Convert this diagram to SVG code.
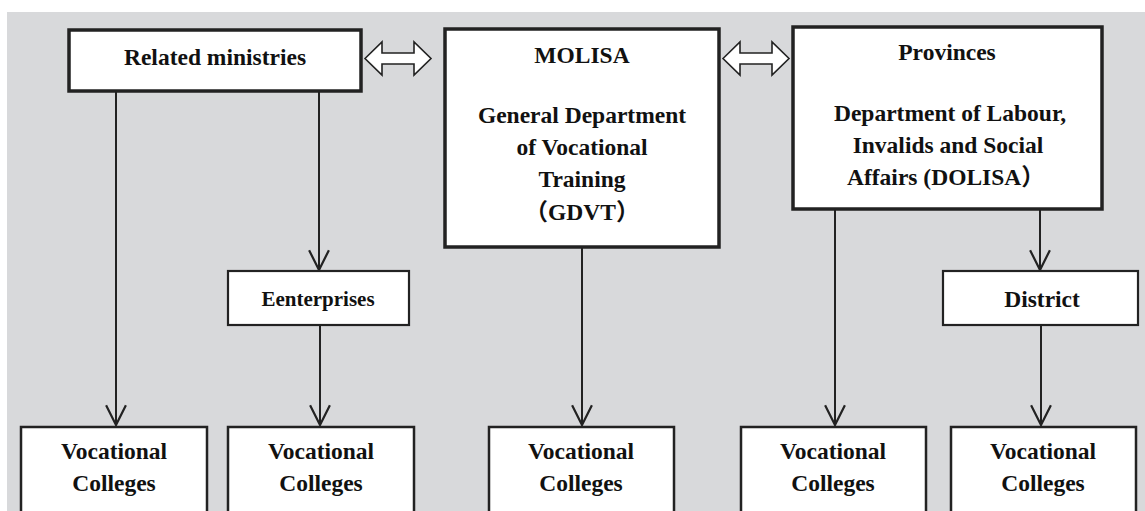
<svg xmlns="http://www.w3.org/2000/svg" width="1145" height="511" viewBox="0 0 1145 511">
  <style>
    .box { fill: #ffffff; stroke: #222222; }
    .thick { stroke-width: 3.5; }
    .mid { stroke-width: 2.5; }
    .thin { stroke-width: 2.2; }
    text { font-family: "Liberation Serif", "Noto Sans CJK SC", serif; font-weight: bold; font-size: 23.5px; fill: #111111; }
    .c { text-anchor: middle; }
    .conn { stroke: #222222; stroke-width: 2; fill: none; }
    .dbl { fill: #ffffff; stroke: #222222; stroke-width: 1.6; stroke-linejoin: miter; }
  </style>
  <defs>
    <marker id="vhead" markerUnits="userSpaceOnUse" markerWidth="22" markerHeight="22" refX="19" refY="10" orient="auto" viewBox="0 0 20 20">
      <path d="M1,1 L19,10 L1,19" fill="none" stroke="#222222" stroke-width="2"/>
    </marker>
    <polygon id="dblarrow" points="0,16.5 17,0 17,11 49,11 49,0 66,16.5 49,33 49,22 17,22 17,33"/>
  </defs>

  <rect x="0" y="0" width="1145" height="511" fill="#ffffff"/>
  <rect x="7" y="12" width="1138" height="499" fill="#d8d9db"/>

  <g id="connectors">
    <line class="conn" x1="116" y1="92" x2="116" y2="425" marker-end="url(#vhead)"/>
    <line class="conn" x1="319" y1="92" x2="319" y2="270" marker-end="url(#vhead)"/>
    <line class="conn" x1="320" y1="325" x2="320" y2="425" marker-end="url(#vhead)"/>
    <line class="conn" x1="582" y1="248" x2="582" y2="425" marker-end="url(#vhead)"/>
    <line class="conn" x1="835" y1="210" x2="835" y2="425" marker-end="url(#vhead)"/>
    <line class="conn" x1="1040" y1="210" x2="1040" y2="270" marker-end="url(#vhead)"/>
    <line class="conn" x1="1041" y1="325" x2="1041" y2="425" marker-end="url(#vhead)"/>
    <use href="#dblarrow" class="dbl" x="365" y="42"/>
    <use href="#dblarrow" class="dbl" x="723" y="42"/>
  </g>

  <g id="related-ministries">
    <rect class="box thick" x="69" y="30" width="292" height="61"/>
    <text class="c" x="215" y="65">Related ministries</text>
  </g>

  <g id="molisa">
    <rect class="box thick" x="445" y="29" width="274" height="218"/>
    <text class="c" x="582" y="63">MOLISA</text>
    <text class="c" x="582" y="123">General Department</text>
    <text class="c" x="582" y="155">of Vocational</text>
    <text class="c" x="582" y="187">Training</text>
    <text class="c" x="582" y="220">（GDVT）</text>
  </g>

  <g id="provinces">
    <rect class="box thick" x="793" y="27" width="309" height="182"/>
    <text class="c" x="947" y="60">Provinces</text>
    <text class="c" x="950" y="121">Department of Labour,</text>
    <text class="c" x="948" y="153">Invalids and Social</text>
    <text x="847" y="185">Affairs (DOLISA）</text>
  </g>

  <g id="enterprises">
    <rect class="box thin" x="228" y="271" width="181" height="54"/>
    <text class="c" x="318" y="306" style="font-size:21px">Eenterprises</text>
  </g>

  <g id="district">
    <rect class="box thin" x="943" y="271" width="195" height="54"/>
    <text class="c" x="1042" y="307">District</text>
  </g>

  <g id="vc1">
    <rect class="box mid" x="21" y="427" width="186" height="100"/>
    <text class="c" x="114" y="459">Vocational</text>
    <text class="c" x="114" y="491">Colleges</text>
  </g>
  <g id="vc2">
    <rect class="box mid" x="228" y="427" width="186" height="100"/>
    <text class="c" x="321" y="459">Vocational</text>
    <text class="c" x="321" y="491">Colleges</text>
  </g>
  <g id="vc3">
    <rect class="box mid" x="489" y="427" width="185" height="100"/>
    <text class="c" x="581" y="459">Vocational</text>
    <text class="c" x="581" y="491">Colleges</text>
  </g>
  <g id="vc4">
    <rect class="box mid" x="741" y="427" width="185" height="100"/>
    <text class="c" x="833" y="459">Vocational</text>
    <text class="c" x="833" y="491">Colleges</text>
  </g>
  <g id="vc5">
    <rect class="box mid" x="951" y="427" width="185" height="100"/>
    <text class="c" x="1043" y="459">Vocational</text>
    <text class="c" x="1043" y="491">Colleges</text>
  </g>
</svg>
